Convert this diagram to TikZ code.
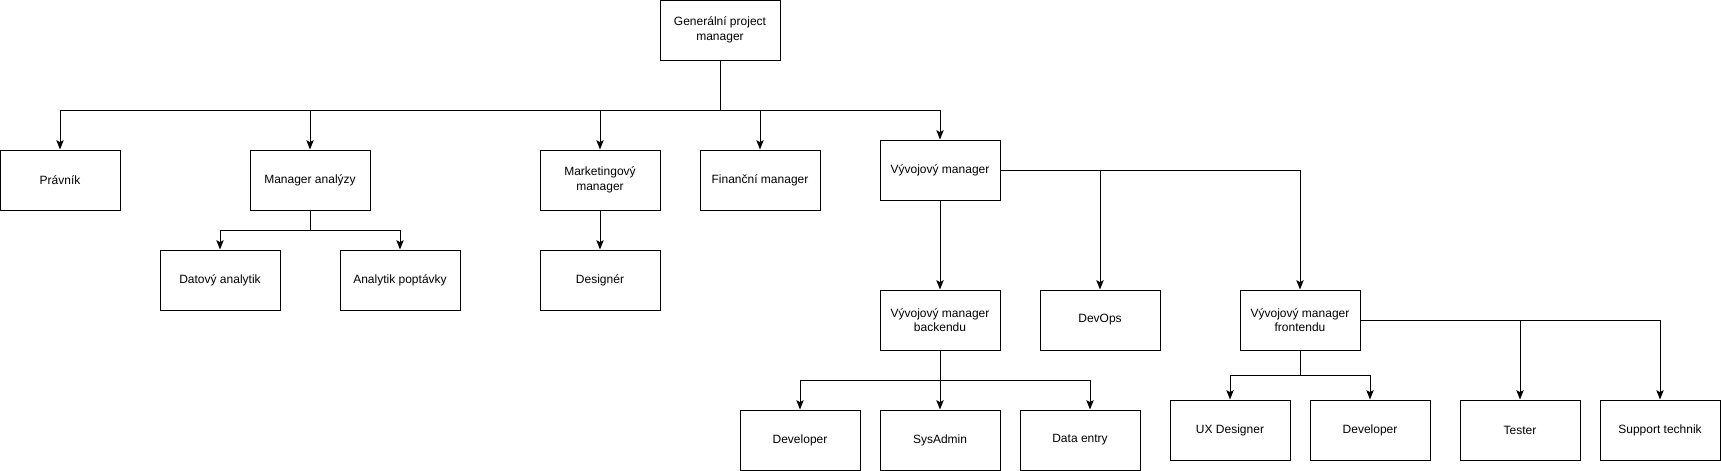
\documentclass[tikz,border=0pt]{standalone}
\usepackage{fontspec}
\setmainfont{Liberation Sans}
\usetikzlibrary{arrows.meta}

\tikzset{
    box/.style={draw=black, line width=0.75pt, fill=white, minimum width=90pt, minimum height=45pt,
        inner sep=0pt, align=center, font=\fontsize{9}{11}\selectfont},
    conn/.style={draw=black, line width=0.75pt, -{Stealth[length=7pt, width=5.5pt, inset=1.5pt]}},
    link/.style={draw=black, line width=0.75pt}
}

\begin{document}
\begin{tikzpicture}[x=0.75pt, y=-0.75pt]
    \useasboundingbox (0,0) rectangle (1721,471);

    \node[box] (gpm)  at ( 720, 30) {Generální project\\manager};

    \node[box] (prav) at (  60,180) {Právník};
    \node[box] (man)  at ( 310,180) {Manager analýzy};
    \node[box] (mkt)  at ( 600,180) {Marketingový\\manager};
    \node[box] (fin)  at ( 760,180) {Finanční manager};
    \node[box] (vm)   at ( 940,170) {Vývojový manager};

    \node[box] (dat)  at ( 220,280) {Datový analytik};
    \node[box] (pop)  at ( 400,280) {Analytik poptávky};
    \node[box] (des)  at ( 600,280) {Designér};

    \node[box] (vmb)  at ( 940,320) {Vývojový manager\\backendu};
    \node[box] (ops)  at (1100,320) {DevOps};
    \node[box] (vmf)  at (1300,320) {Vývojový manager\\frontendu};

    \node[box] (devb) at ( 800,440) {Developer};
    \node[box] (sys)  at ( 940,440) {SysAdmin};
    \node[box] (ent)  at (1080,440) {Data entry};

    \node[box] (ux)   at (1230,430) {UX Designer};
    \node[box] (devf) at (1370,430) {Developer};
    \node[box] (test) at (1520,430) {Tester};
    \node[box] (sup)  at (1660,430) {Support technik};

    \draw[link] (gpm.south) -- ++(0,50) coordinate (bus);
    \foreach \n in {prav,man,mkt,fin,vm}
        \draw[conn] (bus) -| (\n.north);

    \draw[link] (man.south) -- ++(0,20) coordinate (busm);
    \foreach \n in {dat,pop}
        \draw[conn] (busm) -| (\n.north);
    \draw[conn] (mkt.south) -- (des.north);

    \draw[conn] (vm.south) -- (vmb.north);
    \draw[conn] (vm.east) -| (ops.north);
    \draw[conn] (vm.east) -| (vmf.north);

    \draw[link] (vmb.south) -- ++(0,30) coordinate (busb);
    \foreach \n in {devb,sys}
        \draw[conn] (busb) -| (\n.north);
    \draw[conn] (busb) -| ([xshift=7.5pt]ent.north);

    \draw[link] (vmf.south) -- ++(0,25) coordinate (busf);
    \foreach \n in {ux,devf}
        \draw[conn] (busf) -| (\n.north);
    \draw[conn] (vmf.east) -| (test.north);
    \draw[conn] (vmf.east) -| (sup.north);

\end{tikzpicture}
\end{document}
